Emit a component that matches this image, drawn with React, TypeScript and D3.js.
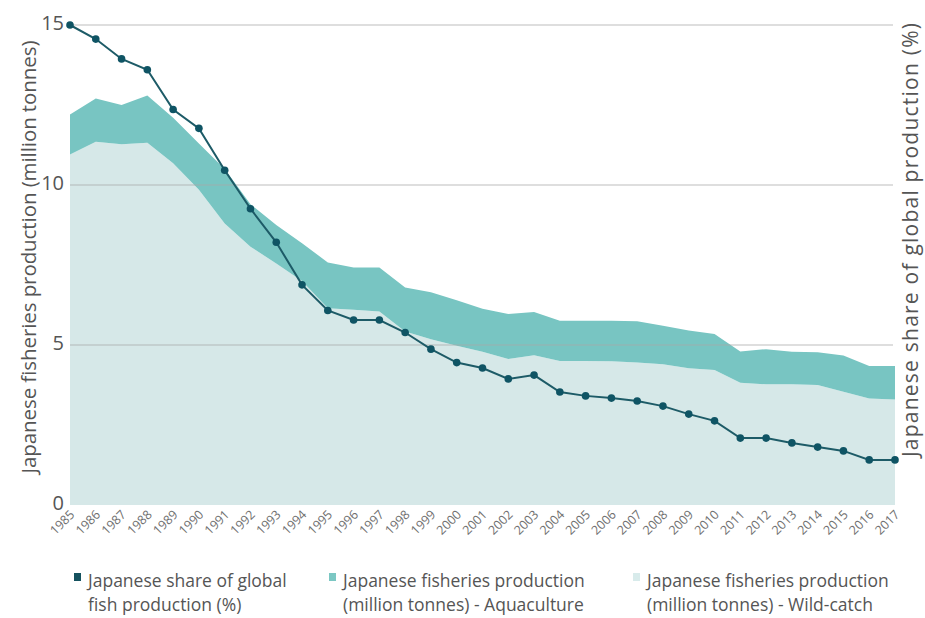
import React from "react";
import * as d3 from "d3";

const WIDTH = 925;
const HEIGHT = 618;
const MARGIN = { top: 25, right: 30, bottom: 113, left: 70 };

const years = d3.range(1985, 2018);

// million tonnes
const wildCatch = [
  10.95, 11.35, 11.27, 11.32, 10.68, 9.85, 8.8, 8.07, 7.55, 7.0, 6.15, 6.1,
  6.05, 5.42, 5.18, 4.98, 4.79, 4.56, 4.68, 4.5, 4.5, 4.49, 4.45, 4.4, 4.27,
  4.22, 3.82, 3.77, 3.77, 3.75, 3.54, 3.33, 3.3,
];
const aquaculture = [
  1.25, 1.35, 1.23, 1.48, 1.42, 1.45, 1.7, 1.33, 1.2, 1.18, 1.43, 1.32, 1.37,
  1.38, 1.47, 1.42, 1.34, 1.41, 1.35, 1.26, 1.26, 1.27, 1.29, 1.2, 1.18, 1.12,
  0.98, 1.1, 1.02, 1.02, 1.13, 1.01, 1.04,
];
// % of global production
const share = [
  15.0, 14.56, 13.94, 13.6, 12.36, 11.77, 10.46, 9.26, 8.21, 6.88, 6.08, 5.78,
  5.78, 5.39, 4.87, 4.45, 4.28, 3.94, 4.06, 3.53, 3.41, 3.34, 3.25, 3.09, 2.84,
  2.63, 2.09, 2.09, 1.94, 1.81, 1.69, 1.41, 1.41,
];

const leftTicks = [0, 5, 10, 15];
const gridTicks = [5, 10, 15];

const legendItems = [
  { color: "#15525f", lines: ["Japanese share of global", "fish production (%)"] },
  { color: "#7bc7c3", lines: ["Japanese fisheries production", "(million tonnes) - Aquaculture"] },
  { color: "#d8ebeb", lines: ["Japanese fisheries production", "(million tonnes) - Wild-catch"] },
];

const FONT = "'Open Sans', 'Noto Sans', sans-serif";

export default function App() {
  const innerW = WIDTH - MARGIN.left - MARGIN.right;
  const bottomY = HEIGHT - MARGIN.bottom;

  const x = d3
    .scaleLinear()
    .domain([1985, 2017])
    .range([MARGIN.left, MARGIN.left + innerW]);
  const y = d3.scaleLinear().domain([0, 15]).range([bottomY, MARGIN.top]);
  // right axis (share %) uses the same 0-15 span, no tick labels shown
  const yRight = d3.scaleLinear().domain([0, 15]).range([bottomY, MARGIN.top]);

  const rows = years.map((yr, i) => ({
    year: yr,
    wild: wildCatch[i],
    aqua: aquaculture[i],
    share: share[i],
  }));

  const wildArea = d3
    .area<any>()
    .x((d) => x(d.year))
    .y0(y(0))
    .y1((d) => y(d.wild));

  const aquaArea = d3
    .area<any>()
    .x((d) => x(d.year))
    .y0((d) => y(d.wild))
    .y1((d) => y(d.wild + d.aqua));

  const shareLine = d3
    .line<any>()
    .x((d) => x(d.year))
    .y((d) => yRight(d.share));

  const legendX = [74, 329, 633];

  return (
    <svg
      width={WIDTH}
      height={HEIGHT}
      style={{ position: "absolute", left: 0, top: 0, background: "#fff" }}
      fontFamily={FONT}
    >
      <path d={wildArea(rows) || ""} fill="#d6e8e8" />
      <path d={aquaArea(rows) || ""} fill="#78c5c2" />

      {gridTicks.map((t) => (
        <line
          key={t}
          x1={MARGIN.left}
          x2={MARGIN.left + innerW - 2}
          y1={y(t)}
          y2={y(t)}
          stroke="#a9a9a9"
          strokeOpacity={0.5}
          strokeWidth={1.5}
        />
      ))}

      {leftTicks.map((t) => (
        <text
          key={t}
          x={MARGIN.left - 6}
          y={y(t)}
          textAnchor="end"
          dominantBaseline="middle"
          fontSize={20}
          fill="#555"
        >
          {t}
        </text>
      ))}

      {years.map((yr) => (
        <text
          key={yr}
          transform={`translate(${x(yr) + 3},${bottomY + 8}) rotate(-45)`}
          textAnchor="end"
          dominantBaseline="middle"
          fontSize={12.5}
          fill="#6f6f6f"
        >
          {yr}
        </text>
      ))}

      <path d={shareLine(rows) || ""} fill="none" stroke="#1d5b67" strokeWidth={2} />
      {rows.map((d) => (
        <circle key={d.year} cx={x(d.year)} cy={yRight(d.share)} r={3.8} fill="#0f5464" />
      ))}

      <text
        transform={`translate(31,257) rotate(-90)`}
        textAnchor="middle"
        dominantBaseline="middle"
        fontSize={20.5}
        textLength={433}
        lengthAdjust="spacing"
        fill="#555"
      >
        Japanese fisheries production (million tonnes)
      </text>
      <text
        transform={`translate(912,240) rotate(-90)`}
        textAnchor="middle"
        dominantBaseline="middle"
        fontSize={21}
        textLength={434}
        lengthAdjust="spacing"
        fill="#555"
      >
        Japanese share of global production (%)
      </text>

      {legendItems.map((item, i) => (
        <g key={i} transform={`translate(${legendX[i]},572)`}>
          <rect x={0} y={1} width={7} height={8} fill={item.color} />
          {item.lines.map((ln, j) => (
            <text key={j} x={14} y={15 + j * 24} fontSize={17.5} fill="#555">
              {ln}
            </text>
          ))}
        </g>
      ))}
    </svg>
  );
}
